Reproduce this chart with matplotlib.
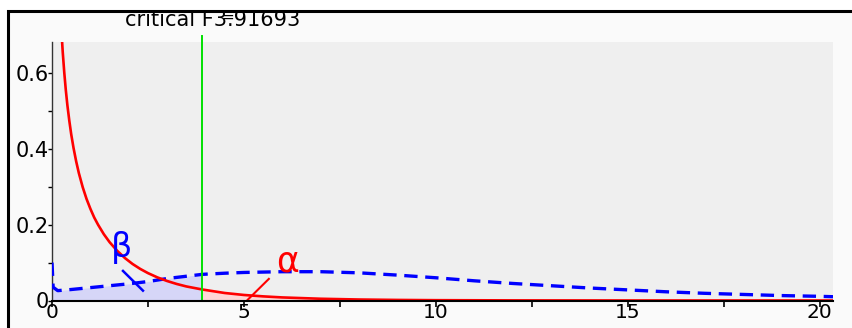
import matplotlib
matplotlib.use("Agg")
import matplotlib.pyplot as plt
from matplotlib.patches import Rectangle
import numpy as np

# values
crit_F = 3.91693
title_text = "critical F3.91693"

# central F density (red), x and y
red_x = [0.22, 0.25, 0.28, 0.32, 0.36, 0.40, 0.45, 0.5, 0.56, 0.63, 0.7, 0.8, 0.9, 1.0,
         1.1, 1.2, 1.35, 1.5, 1.7, 1.9, 2.1, 2.3, 2.5, 2.75, 3.0, 3.25, 3.5, 3.91693,
         4.5, 5.0, 5.5, 6.0, 7.0, 8.0, 9.0, 10.0, 12.0, 15.0, 20.0, 20.35]
red_y = [0.762, 0.704, 0.655, 0.601, 0.555, 0.516, 0.475, 0.439, 0.403, 0.367, 0.336,
         0.299, 0.268, 0.242, 0.219, 0.200, 0.175, 0.154, 0.131, 0.112, 0.0963, 0.0833,
         0.0723, 0.0608, 0.0514, 0.0436, 0.0371, 0.029, 0.0198, 0.0146, 0.0109, 0.0081,
         0.0046, 0.0026, 0.0015, 0.00085, 0.00029, 0.00006, 0.0, 0.0]

# non-central F density (blue dashed)
blue_x = [0.0, 0.03, 0.15, 0.5, 1.0, 1.5, 2.0, 2.5, 3.0, 3.5, 3.91693, 4.5, 5.0, 6.0,
          7.0, 8.0, 9.0, 10.0, 11.0, 12.0, 13.0, 14.0, 15.0, 16.0, 17.0, 18.0, 19.0,
          20.0, 20.35]
blue_y = [0.10, 0.035, 0.026, 0.029, 0.034, 0.039, 0.044, 0.050, 0.058, 0.064, 0.069,
          0.072, 0.074, 0.076, 0.076, 0.073, 0.067, 0.060, 0.052, 0.045, 0.039, 0.033,
          0.028, 0.023, 0.019, 0.016, 0.013, 0.011, 0.010]

x_major = [0, 5, 10, 15, 20]
x_minor = [2.5, 7.5, 12.5, 17.5]
y_major = [0, 0.2, 0.4, 0.6]
y_major_labels = ["0", "0.2", "0.4", "0.6"]
y_minor = [0.1, 0.3, 0.5]

beta_text_pos = (1.80, 0.139)
beta_line = ([1.85, 2.37], [0.078, 0.026])
alpha_text_pos = (6.15, 0.102)
alpha_line = ([5.65, 5.1], [0.057, 0.002])

red_x = np.array(red_x); red_y = np.array(red_y)
blue_x = np.array(blue_x); blue_y = np.array(blue_y)

W, H = 852, 328
fig = plt.figure(figsize=(W/100, H/100), dpi=100)
fig.patch.set_facecolor("white")

# outer frame (only top and left edge visible)
frame = Rectangle((8/W, -0.2), 1.2, 1.2 - 11/H, transform=fig.transFigure,
                  facecolor="#fafafa", edgecolor="black", lw=2.2, zorder=-5)
fig.patches.append(frame)

ax = fig.add_axes([52/W, 1 - 300.5/H, (833-52)/W, (300.5-42)/H])
ax.set_zorder(1)
ax.set_facecolor("#efefef")
ax.set_xlim(0, 20.35)
ax.set_ylim(0, (300.5-42)/379)

# shaded areas
m_b = blue_x <= crit_F
ax.fill_between(blue_x[m_b], 0, blue_y[m_b], color="#d6d6f7", lw=0, zorder=1)
m_r = red_x >= crit_F
ax.fill_between(red_x[m_r], 0, red_y[m_r], color="#ffd6d6", lw=0, zorder=1)

ax.plot(blue_x, blue_y, color="blue", lw=2.4, dashes=(4, 2.3), dash_capstyle="butt", zorder=3)
ax.plot(red_x, red_y, color="red", lw=1.9, zorder=3)
ax.plot([crit_F, crit_F], [0, 0.698], color="#00e000", lw=1.4, zorder=4, clip_on=False)

ax.plot(*beta_line, color="blue", lw=1.8, zorder=5)
ax.text(*beta_text_pos, "β", color="blue", fontsize=24, ha="center", va="center", zorder=5)
ax.plot(*alpha_line, color="red", lw=1.5, zorder=5)
ax.text(*alpha_text_pos, "α", color="red", fontsize=25, ha="center", va="center", zorder=5)

for s in ["top", "right"]:
    ax.spines[s].set_visible(False)
ax.spines["left"].set_color("#333333")
ax.spines["left"].set_linewidth(1.0)
ax.spines["bottom"].set_color("black")
ax.spines["bottom"].set_linewidth(1.5)
ax.spines["bottom"].set_zorder(6)

ax.set_xticks(x_major)
ax.set_xticklabels([str(v) for v in x_major])
ax.set_xticks(x_minor, minor=True)
ax.set_yticks(y_major)
ax.set_yticklabels(y_major_labels)
ax.set_yticks(y_minor, minor=True)
ax.tick_params(axis="x", which="both", direction="out", length=4, width=1.2, pad=-2, labelsize=14.5)
ax.tick_params(axis="y", which="both", direction="out", length=3, width=1.0, pad=-1, labelsize=15)

fig.text(125/W, 1 - 26/H, title_text, fontsize=15, ha="left", va="baseline")
fig.text(228/W, 1 - 17/H, "=", fontsize=11, ha="center", va="center")

fig.savefig("out.png", dpi=100)
